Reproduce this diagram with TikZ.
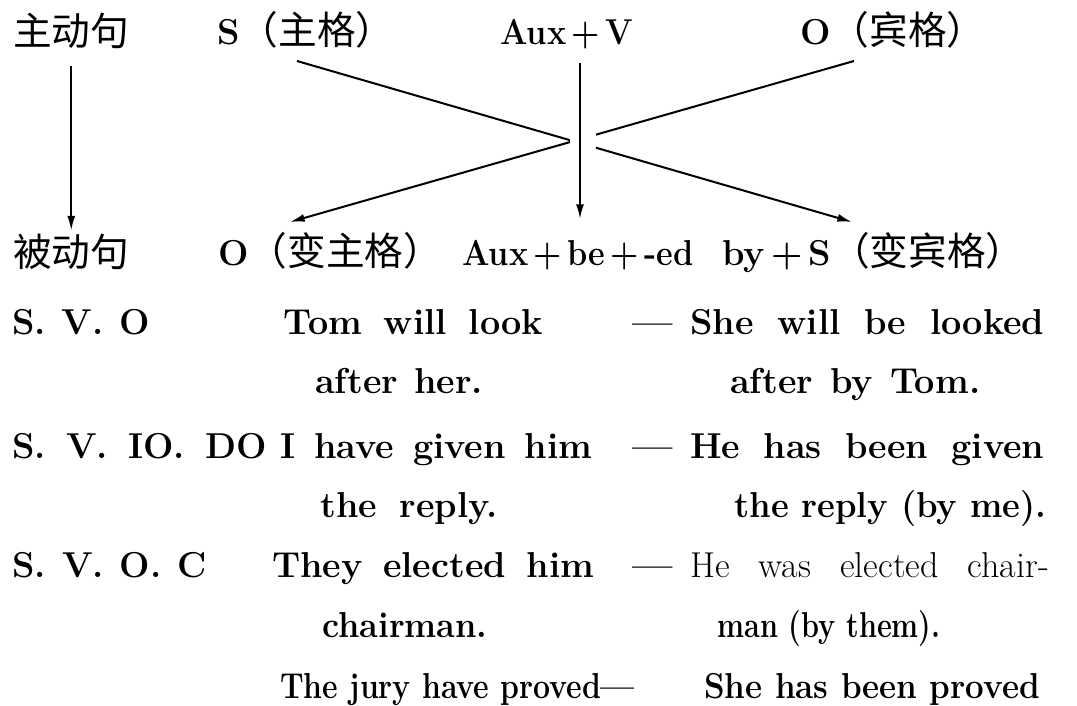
\documentclass[tikz,border=0pt]{standalone}
\usepackage{fontspec}
\usepackage{graphicx}
\newfontfamily\cjk{Noto Sans CJK SC}
\usetikzlibrary{arrows.meta}
\newcommand{\cjkp}[1]{{\fontsize{29}{31}\selectfont\cjk\mdseries #1}}
\newcommand{\hsq}[2]{\scalebox{#1}[1]{#2}}
\tikzset{
  txt/.style={anchor=base west, inner sep=0pt, font=\fontsize{27}{29}\selectfont\bfseries},
  txtr/.style={anchor=base west, inner sep=0pt, font=\fontsize{27}{29}\selectfont},
  cjkt/.style={anchor=base west, inner sep=0pt, font=\fontsize{29}{31}\selectfont\cjk},
  conn/.style={line width=1.5pt, -{Latex[length=11pt,width=6pt]}},
}
\begin{document}
\begin{tikzpicture}[x=0.75pt,y=-0.75pt]
\fill[white] (0,0) rectangle (1077,706);
\path[use as bounding box] (0,0) rectangle (1077,706);

% diagram labels
\node[cjkt] (act) at (13,46) {主动句};
\node[txt] (S) at (217,45) {S\cjkp{（主格）}};
\node[txt] (AV) at (500,45) {\hsq{0.9}{Aux\,+\,V}};
\node[txt] (O) at (800,45) {O\cjkp{（宾格）}};
\node[cjkt] (pas) at (13,266) {被动句};
\node[txt] (O2) at (218,265) {O\cjkp{（变主格）}};
\node[txt] (ABE) at (462,265) {\hsq{0.9}{Aux\,+\,be\,+\,-ed}};
\node[txt] (BYS) at (722,265) {by\,+\,S\cjkp{（变宾格）}};

% connector end points
\coordinate (sA) at (297,61);  \coordinate (sB) at (852,222);
\coordinate (oA) at (854,61);  \coordinate (oB) at (290,222);
\coordinate (vA) at (580,63);  \coordinate (vB) at (580,219);
\coordinate (gA) at (583,122); \coordinate (gB) at (583,162);

\draw[conn, shorten <=12pt, shorten >=2pt] (act) -- (pas);
\draw[conn] (sA) -- (sB);
\draw[conn] (oA) -- (oB);
\draw[white, line width=20pt] (gA) -- (gB);
\draw[conn] (vA) -- (vB);

% example rows
\node[txt] (r1l) at (12,334) {\makebox[103.5pt][s]{S. V. O}};
\node[txt] (r1a) at (283,334) {\makebox[195pt][s]{Tom will look}};
\node[txt] (r1d) at (632,334) {---};
\node[txt] (r1p) at (690,334) {\makebox[265.5pt][s]{She will be looked}};
\node[txt] (r2a) at (315,393) {\makebox[126pt][s]{after her.}};
\node[txt] (r2p) at (730,393) {\makebox[187.5pt][s]{after by Tom.}};

\node[txt] (r3l) at (12,458) {\makebox[191pt][s]{S. V. IO. DO}};
\node[txt] (r3a) at (280,458) {\makebox[234pt][s]{I have given him}};
\node[txt] (r3d) at (632,458) {---};
\node[txt] (r3p) at (690,458) {\makebox[265.5pt][s]{He has been given}};
\node[txt] (r4a) at (320,517) {\makebox[133pt][s]{the reply.}};
\node[txt] (r4p) at (734,517) {\hsq{0.96}{the reply (by me).}};

\node[txt] (r5l) at (12,577) {\makebox[146pt][s]{S. V. O. C}};
\node[txt] (r5a) at (272,577) {\makebox[241.5pt][s]{They elected him}};
\node[txt] (r5d) at (632,577) {---};
\node[txtr] (r5p) at (690,577) {\makebox[269pt][s]{He was elected chair-}};
\node[txt] (r6a) at (322,637) {\hsq{0.95}{chairman.}};
\node[txt] (r6p) at (717,637) {\hsq{0.8}{man (by them).}};

\node[txt] (r7a) at (280,698) {\hsq{0.84}{The jury have proved---}};
\node[txt] (r7p) at (704,698) {\hsq{0.92}{She has been proved}};
\end{tikzpicture}
\end{document}
